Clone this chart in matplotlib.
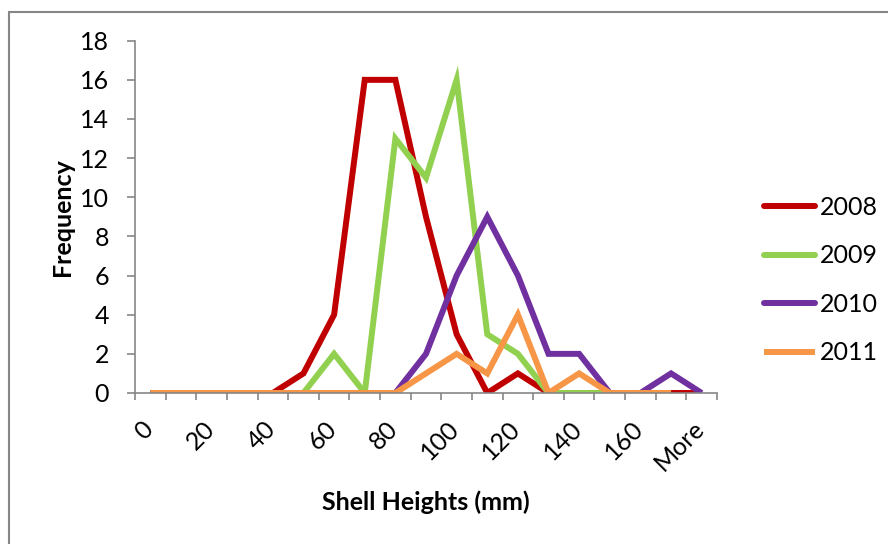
import matplotlib
matplotlib.use("Agg")
import matplotlib.pyplot as plt
from matplotlib.patches import Rectangle
import matplotlib.transforms as mtrans
import numpy as np

categories = ["0", "10", "20", "30", "40", "50", "60", "70", "80", "90", "100",
              "110", "120", "130", "140", "150", "160", "170", "More"]
y2008 = [0, 0, 0, 0, 0, 1, 4, 16, 16, 9, 3, 0, 1, 0, 0, 0, 0, 0, 0]
y2009 = [0, 0, 0, 0, 0, 0, 2, 0, 13, 11, 16, 3, 2, 0, 0, 0, 0, 0]
y2010 = [0, 0, 0, 0, 0, 0, 0, 0, 0, 2, 6, 9, 6, 2, 2, 0, 0, 1, 0]
y2011 = [0, 0, 0, 0, 0, 0, 0, 0, 0, 1, 2, 1, 4, 0, 1, 0, 0, 0]
series_names = ["2008", "2009", "2010", "2011"]
colors = ["#C00000", "#92D050", "#7030A0", "#F79646"]
yticks = list(range(0, 19, 2))

plt.rcParams['font.family'] = ['Lato', 'DejaVu Sans']

W, H = 888, 544
fig = plt.figure(figsize=(W / 100, H / 100), dpi=100)
fig.patches.append(Rectangle((9 / W, -0.1), 1.2, (H - 12) / H + 0.1, transform=fig.transFigure,
                             fill=False, edgecolor="#868686", linewidth=1.5, zorder=0))

left, right, top, bottom = 135, 717, 40.7, 393
ax = fig.add_axes([left / W, (H - bottom) / H, (right - left) / W, (bottom - top) / H])

for name, vals, c in zip(series_names, [y2008, y2009, y2010, y2011], colors):
    x = np.arange(len(vals))
    ax.plot(x, vals, color=c, linewidth=4.3, label=name, solid_joinstyle="miter",
            solid_capstyle="butt")

ax.set_xlim(-0.5, len(categories) - 0.5)
ax.set_ylim(0, 18)
ax.set_yticks(yticks)
ax.set_yticklabels([str(t) for t in yticks], fontsize=18)
ax.tick_params(axis="y", length=5.8, width=1.2, color="#868686", pad=13)

# category tick marks between categories
ax.set_xticks(np.arange(-0.5, len(categories), 1.0), minor=True)
ax.set_xticks(np.arange(0, len(categories), 2))
ax.set_xticklabels([categories[i] for i in range(0, len(categories), 2)],
                   rotation=45, ha="right", va="center", rotation_mode="anchor", fontsize=18)
ax.tick_params(axis="x", which="major", length=0, pad=23)
ax.tick_params(axis="x", which="minor", length=5, width=1.2, color="#868686")
for lbl in ax.get_xticklabels():
    lbl.set_transform(lbl.get_transform() + mtrans.ScaledTranslation(-1 / 100, 0, fig.dpi_scale_trans))

for s in ["top", "right"]:
    ax.spines[s].set_visible(False)
for s in ["left", "bottom"]:
    ax.spines[s].set_color("#868686")
    ax.spines[s].set_linewidth(1.2)

fig.text(62 / W, 1 - 217 / H, "Frequency", rotation=90, ha="center", va="center",
         fontsize=18, fontweight="bold")
fig.text(426 / W, 1 - 502 / H, "Shell Heights (mm)", ha="center", va="center",
         fontsize=18, fontweight="bold")

leg = ax.legend(loc="center left", bbox_to_anchor=(764 / W, 1 - 280 / H), bbox_transform=fig.transFigure,
                frameon=False, fontsize=18, handlelength=2.05, handletextpad=0.2, labelspacing=1.02,
                borderpad=0, borderaxespad=0)
for i, ln in enumerate(leg.get_lines()):
    ln.set_solid_capstyle("round" if i < 3 else "butt")

fig.savefig("out.png", dpi=100)
